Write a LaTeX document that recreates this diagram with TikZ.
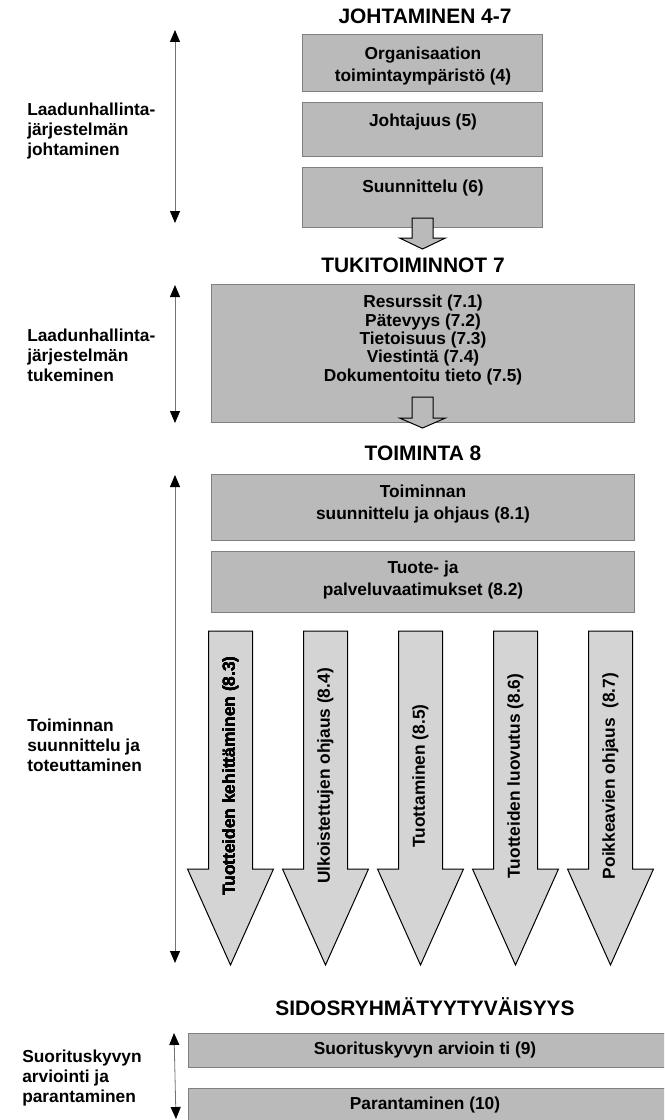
\documentclass[tikz,border=0pt]{standalone}
\usepackage{fontspec}
\setmainfont{Liberation Sans}
\usetikzlibrary{calc,arrows.meta}
\def\blockarrow[#1](#2)(#3:#4:#5:#6){\draw[#1] ($(#2)+(-#3,0)$) -- ++(0,#4) -- ++({#3-#5},0) -- ++(#5,#6) -- ++(#5,-#6) -- ++({#3-#5},0) -- ++(0,-#4) -- cycle;}
\tikzset{
  box/.style={draw=black!50, fill=black!27, line width=0.75pt},
  bigarrow/.style={draw=black, fill=black!17, line width=0.75pt},
  smallarrow/.style={draw=black, fill=black!27, line width=0.75pt},
  heading/.style={font=\bfseries\fontsize{15.7pt}{18pt}\selectfont, inner sep=0pt},
  boxtext/.style={font=\bfseries\fontsize{13pt}{16.5pt}\selectfont, align=center, inner sep=0pt},
  listtext/.style={font=\bfseries\fontsize{13pt}{13.75pt}\selectfont, align=center, inner sep=0pt},
  sidetext/.style={font=\bfseries\fontsize{13pt}{15pt}\selectfont, align=left, anchor=west, inner sep=0pt},
  arrowtext/.style={font=\bfseries\fontsize{13pt}{15pt}\selectfont, rotate=90, inner sep=0pt},
  span/.style={draw=black!55, line width=0.6pt,
    {Triangle[width=7.5pt,length=9pt,color=black]}-{Triangle[width=7.5pt,length=9pt,color=black]}}
}
\begin{document}
\begin{tikzpicture}[x=0.75pt, y=-0.75pt]
		%%%%% START %%%%%
		\useasboundingbox (0,0) rectangle (664,1120);
		\clip (0,0) rectangle (664,1120);
		
		% johtaminen
		\node[heading] (johto) at (425,16) {JOHTAMINEN 4-7};
		\draw[box] (302,35) rectangle (542,92);
		\draw[box] (302,103) rectangle (542,157);
		\draw[box] (302,168) rectangle (542,227);
		\node[boxtext] (org) at (423,66) {Organisaation\\toimintaympäristö (4)};
		\node[boxtext] (joht) at (423,122) {Johtajuus (5)};
		\node[boxtext] (suun) at (423,188) {Suunnittelu (6)};
		\coordinate (a1) at (422.5,218);
		\blockarrow[smallarrow](a1)(10.5:20:23:11)
		
		% tukitoiminnot
		\node[heading] (tuki) at (413,265) {TUKITOIMINNOT 7};
		\draw[box] (211,284) rectangle (634,422);
		\node[listtext] (res) at (423,340) {Resurssit (7.1)\\Pätevyys (7.2)\\Tietoisuus (7.3)\\Viestintä (7.4)\\Dokumentoitu tieto (7.5)};
		\coordinate (a2) at (422.5,397);
		\blockarrow[smallarrow](a2)(10.5:21:23:10)
		
		% toiminta
		\node[heading] (toim) at (423,453) {TOIMINTA 8};
		\draw[box] (211,474) rectangle (634,540);
		\draw[box] (211,551) rectangle (634,612);
		\node[boxtext] (ohj) at (423,504) {Toiminnan\\suunnittelu ja ohjaus (8.1)};
		\node[boxtext] (vaat) at (423,580) {Tuote- ja\\palveluvaatimukset (8.2)};
		
		\coordinate (p3) at (230.5,631);
		\coordinate (p4) at (325.5,631);
		\coordinate (p5) at (420.5,631);
		\coordinate (p6) at (515.5,631);
		\coordinate (p7) at (610.5,631);
		\foreach \p in {p3,p4,p5,p6,p7}
		  \blockarrow[bigarrow](\p)(22:238:43:96)
		\node[arrowtext] (kehit) at (230.5,776) {Tuotteiden kehittäminen (8.3)};
		\node[arrowtext] (ulko) at (325.5,776) {Ulkoistettujen ohjaus (8.4)};
		\node[arrowtext] (tuot) at (420.5,776) {Tuottaminen (8.5)};
		\node[arrowtext] (luov) at (515.5,776) {Tuotteiden luovutus (8.6)};
		\node[arrowtext] (poik) at (610.5,776) {Poikkeavien ohjaus~~(8.7)};
		
		% sidosryhmat
		\node[heading] (sidos) at (425,1007) {SIDOSRYHMÄTYYTYVÄISYYS};
		\draw[box] (188,1033) rectangle (700,1067);
		\draw[box] (188,1088) rectangle (700,1140);
		\node[boxtext] (arv) at (425,1050) {Suorituskyvyn arvioin ti (9)};
		\node[boxtext] (par) at (425,1105) {Parantaminen (10)};
		
		% vasen reuna
		\coordinate (s1t) at (175,30);   \coordinate (s1b) at (175,223);
		\coordinate (s2t) at (175,285);  \coordinate (s2b) at (175,423);
		\coordinate (s3t) at (175,475);  \coordinate (s3b) at (175,963);
		\coordinate (s4t) at (174,1033); \coordinate (s4b) at (176,1119);
		\draw[span] (s1t) -- (s1b);
		\draw[span] (s2t) -- (s2b);
		\draw[span] (s3t) -- (s3b);
		\draw[span] (s4t) -- (s4b);
		
		\node[sidetext] (lab1) at (27,131) {Laadunhallinta-\\järjestelmän\\johtaminen};
		\node[sidetext] (lab2) at (27,355) {Laadunhallinta-\\järjestelmän\\tukeminen};
		\node[sidetext] (lab3) at (27,745) {Toiminnan\\suunnittelu ja\\toteuttaminen};
		\node[sidetext] (lab4) at (22,1078) {Suorituskyvyn\\arviointi ja\\parantaminen};
		%%%%% END %%%%%
	\end{tikzpicture}
\end{document}
